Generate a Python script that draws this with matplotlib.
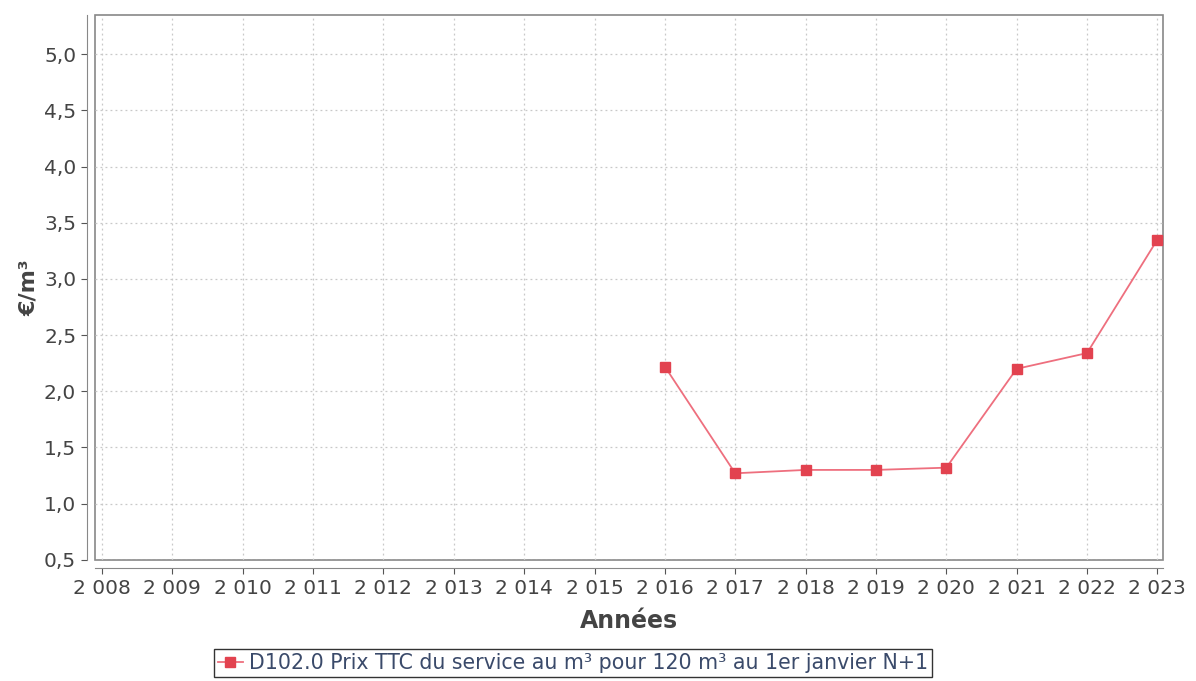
import matplotlib
matplotlib.use("Agg")
import matplotlib.pyplot as plt
from matplotlib.ticker import FuncFormatter

# Données
annees = [2016, 2017, 2018, 2019, 2020, 2021, 2022, 2023]
prix = [2.22, 1.27, 1.30, 1.30, 1.32, 2.20, 2.34, 3.35]
annees_ticks = list(range(2008, 2024))
y_ticks = [0.5, 1.0, 1.5, 2.0, 2.5, 3.0, 3.5, 4.0, 4.5, 5.0]
serie = "D102.0 Prix TTC du service au m³ pour 120 m³ au 1er janvier N+1"

fig = plt.figure(figsize=(11.96, 6.81), dpi=100)
ax = fig.add_axes([0.0794, 0.178, 0.893, 0.800])

ax.plot(annees, prix, color="#ee6f7e", linewidth=1.3, marker="s",
        markersize=7.5, markerfacecolor="#e2424f", markeredgecolor="#e2424f",
        label=serie)

ax.set_xlim(2007.9, 2023.08)
ax.set_ylim(0.5, 5.35)
ax.set_xticks(annees_ticks)
ax.set_xticklabels([f"{a // 1000} {a % 1000:03d}" for a in annees_ticks])
ax.set_yticks(y_ticks)
ax.yaxis.set_major_formatter(FuncFormatter(lambda v, p: f"{v:.1f}".replace(".", ",")))

ax.grid(True, color="#c8c8c8", linestyle=(0, (1.5, 2.5)), linewidth=0.9)
ax.tick_params(colors="#555555", labelcolor="#444444", labelsize=14.5, length=4)

# cadre du graphique + axes décalés
ax.patch.set_edgecolor("#888888")
ax.patch.set_linewidth(1.2)
for s in ["top", "right"]:
    ax.spines[s].set_visible(False)
for s in ["left", "bottom"]:
    ax.spines[s].set_position(("outward", 6))
    ax.spines[s].set_color("#888888")

ax.set_xlabel("Années", fontsize=17, fontweight="bold", color="#444444", labelpad=8)
ax.set_ylabel("€/m³", fontsize=16, fontweight="bold", color="#444444", labelpad=4)

leg = fig.legend(loc="center", bbox_to_anchor=(0.479, 0.026), fontsize=14.8,
                 frameon=True, fancybox=False, handlelength=1.2, handletextpad=0.3,
                 borderpad=0.2, labelcolor="#3a4a6a")
leg.get_frame().set_edgecolor("black")
leg.get_frame().set_linewidth(1.0)

fig.savefig("out.png", dpi=100)
